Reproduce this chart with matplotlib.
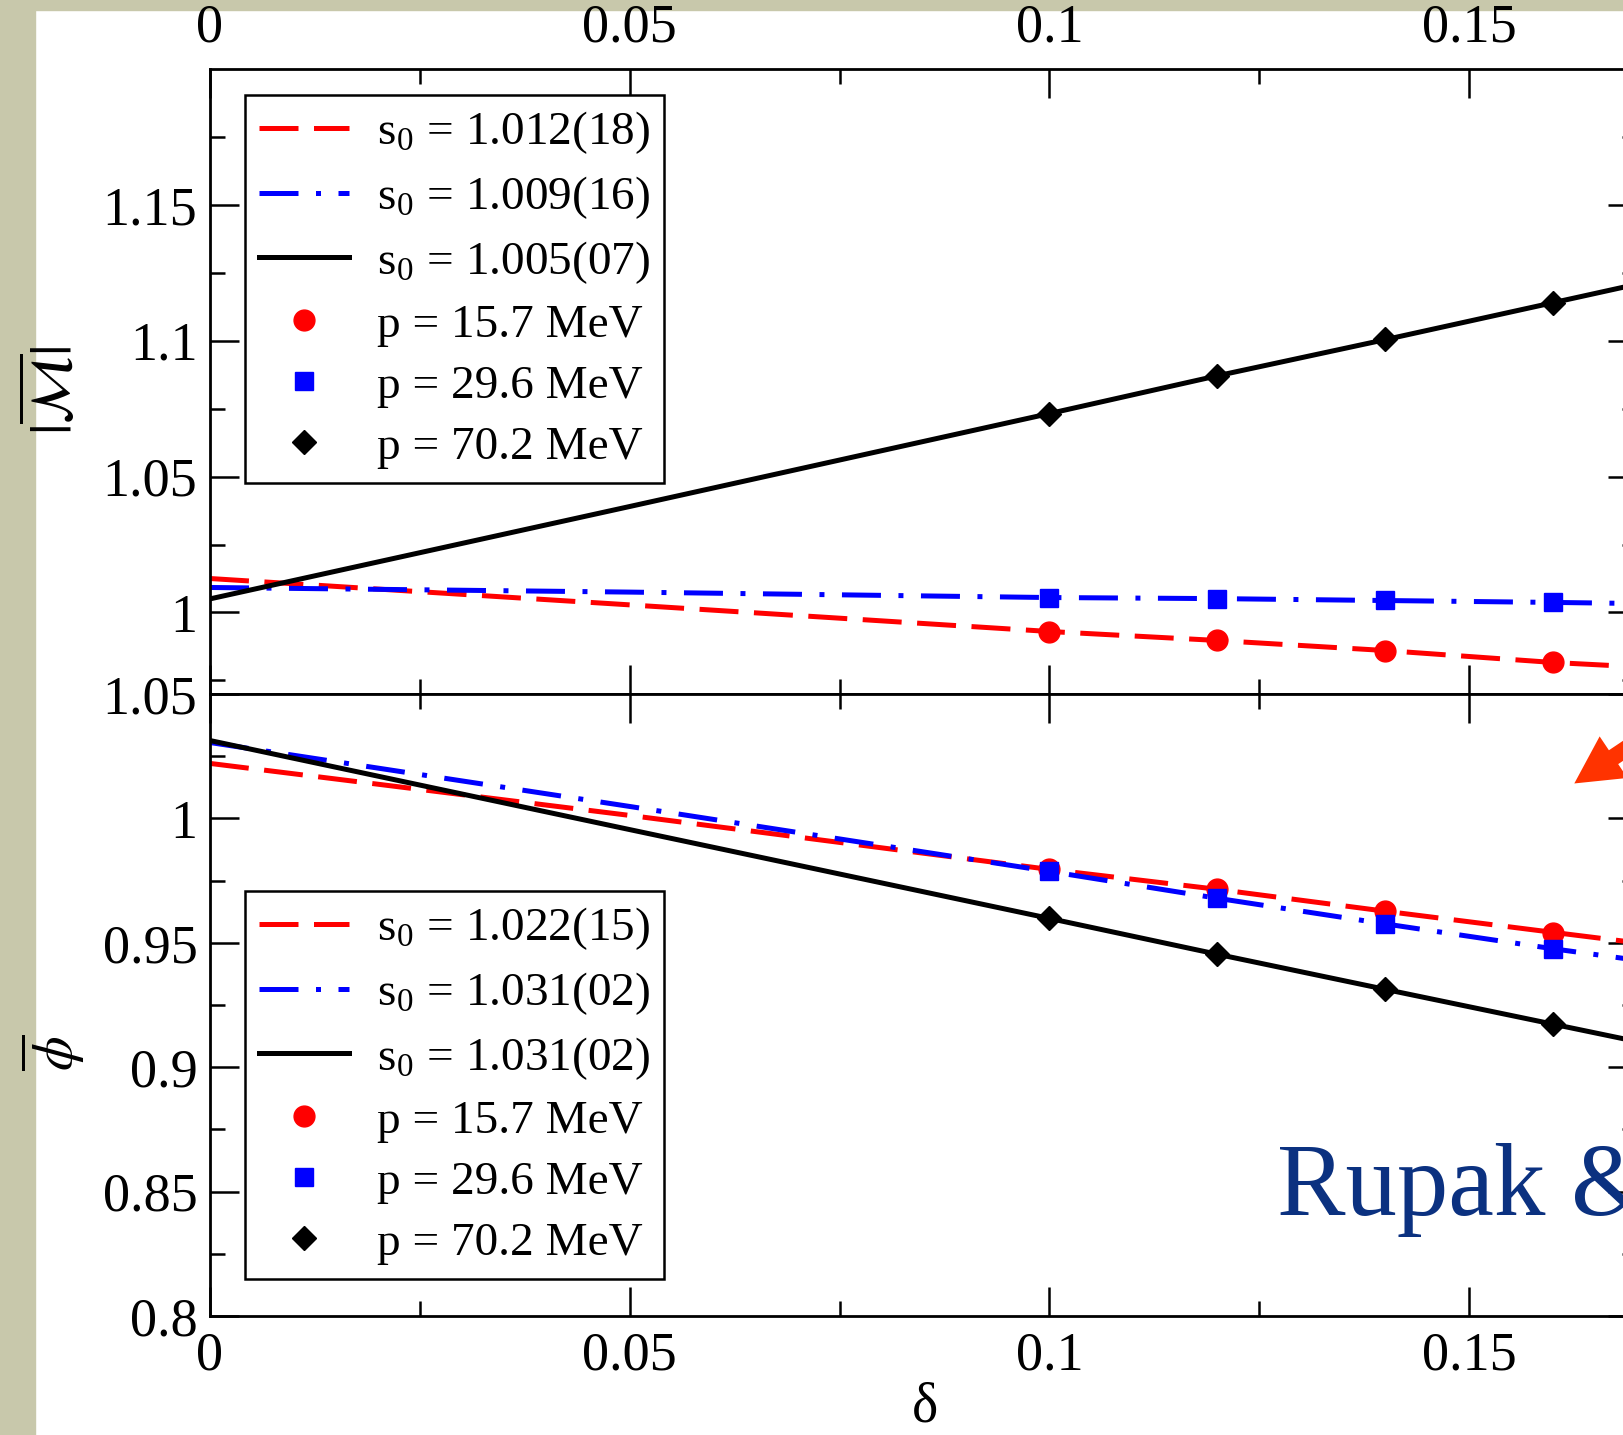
import matplotlib.pyplot as plt
from matplotlib.patches import Rectangle, FancyArrowPatch
from matplotlib.transforms import IdentityTransform
from matplotlib.ticker import FixedLocator, FormatStrFormatter

plt.rcParams['font.family'] = ['Liberation Serif', 'DejaVu Serif']
plt.rcParams['mathtext.fontset'] = 'stix'

# fitted curves, sampled along delta
delta_fit = [0.0, 0.05, 0.10, 0.12, 0.14, 0.16, 0.17]
M_fit_157 = [1.0125, 1.0028, 0.9930, 0.9897, 0.9860, 0.9816, 0.9800]
M_fit_296 = [1.0092, 1.0075, 1.0055, 1.0051, 1.0044, 1.0037, 1.0033]
M_fit_702 = [1.0050, 1.0390, 1.0732, 1.0871, 1.1004, 1.1140, 1.1208]
phi_fit_157 = [1.0221, 1.0012, 0.9795, 0.9715, 0.9627, 0.9542, 0.9500]
phi_fit_296 = [1.0305, 1.0048, 0.9787, 0.9679, 0.9576, 0.9476, 0.9430]
phi_fit_702 = [1.0313, 0.9955, 0.9598, 0.9454, 0.9313, 0.9173, 0.9103]

# lattice results
delta_pts = [0.10, 0.12, 0.14, 0.16]
M_157 = [0.9930, 0.9897, 0.9857, 0.9816]
M_296 = [1.0055, 1.0051, 1.0046, 1.0037]
M_702 = [1.0732, 1.0871, 1.1005, 1.1140]
phi_157 = [0.9795, 0.9715, 0.9627, 0.9540]
phi_296 = [0.9787, 0.9679, 0.9576, 0.9476]
phi_702 = [0.9598, 0.9454, 0.9313, 0.9173]

M_s0 = ['1.012(18)', '1.009(16)', '1.005(07)']
phi_s0 = ['1.022(15)', '1.031(02)', '1.031(02)']
momenta = ['15.7', '29.6', '70.2']

x_major = [0, 0.05, 0.1, 0.15]
x_minor = [0.025, 0.075, 0.125]
M_major = [1.0, 1.05, 1.1, 1.15]
M_minor = [0.975, 1.025, 1.075, 1.125, 1.175]
phi_major = [0.8, 0.85, 0.9, 0.95, 1.0, 1.05]
phi_minor = [0.825, 0.875, 0.925, 0.975, 1.025]

W, H = 1624, 1435
fig = plt.figure(figsize=(W / 100, H / 100), dpi=100)
fig.patch.set_facecolor('white')

# stone border of the slide
stone = '#c8c8ab'
fig.add_artist(Rectangle((0, 0), 35 / W, 1, transform=fig.transFigure,
                         color=stone, zorder=-5))
fig.add_artist(Rectangle((0, 1 - 10 / H), 1, 10 / H, transform=fig.transFigure,
                         color=stone, zorder=-5))

ax1 = fig.add_axes([210 / W, 1 - 694 / H, 1427 / W, 625 / H])
ax2 = fig.add_axes([210 / W, 1 - 1316 / H, 1427 / W, 622 / H])

styles = [
    dict(color='red', dashes=(7.8, 3.1)),
    dict(color='blue', dashes=(7.8, 3.5, 1.0, 3.5)),
    dict(color='black'),
]
markers = [
    dict(marker='o', color='red', markersize=15),
    dict(marker='s', color='blue', markersize=13),
    dict(marker='D', color='black', markersize=12),
]


def draw_panel(ax, fits, pts, s0_labels):
    lines = []
    for y, st, lab in zip(fits, styles, s0_labels):
        ln, = ax.plot(delta_fit, y, lw=3.6, label=r's$_\mathregular{0}$ = ' + lab, **st)
        lines.append(ln)
    dots = []
    for y, mk, p in zip(pts, markers, momenta):
        d, = ax.plot(delta_pts, y, ls='none', label='p = ' + p + ' MeV', zorder=4, **mk)
        dots.append(d)
    return lines + dots


h1 = draw_panel(ax1, [M_fit_157, M_fit_296, M_fit_702], [M_157, M_296, M_702], M_s0)
h2 = draw_panel(ax2, [phi_fit_157, phi_fit_296, phi_fit_702],
                [phi_157, phi_296, phi_702], phi_s0)

ax1.set_ylim(0.97, 1.2)
ax2.set_ylim(0.8, 1.05)
ax1.yaxis.set_major_locator(FixedLocator(M_major))
ax1.yaxis.set_minor_locator(FixedLocator(M_minor))
ax2.yaxis.set_major_locator(FixedLocator(phi_major))
ax2.yaxis.set_minor_locator(FixedLocator(phi_minor))

for ax in (ax1, ax2):
    ax.set_xlim(0, 0.17)
    ax.xaxis.set_major_locator(FixedLocator(x_major))
    ax.xaxis.set_minor_locator(FixedLocator(x_minor))
    ax.xaxis.set_major_formatter(FormatStrFormatter('%g'))
    ax.yaxis.set_major_formatter(FormatStrFormatter('%g'))
    ax.tick_params(which='both', direction='in', top=True, right=True, width=1.8)
    ax.tick_params(which='major', length=21, labelsize=39)
    ax.tick_params(which='minor', length=11)
    ax.tick_params(axis='x', pad=11)
    ax.tick_params(axis='y', pad=9)
    for sp in ax.spines.values():
        sp.set_linewidth(2.0)

ax1.tick_params(axis='x', labeltop=True, labelbottom=False)

for ax, handles, ytop in ((ax1, h1, 0.958), (ax2, h2, 0.683)):
    leg = ax.legend(handles=handles, loc='upper left', bbox_to_anchor=(0.0245, ytop),
                    borderaxespad=0, fancybox=False, edgecolor='black', framealpha=1,
                    fontsize=34, handlelength=1.9, handletextpad=0.6,
                    labelspacing=0.38, borderpad=0.3, numpoints=1)
    leg.get_frame().set_linewidth(1.8)

# axis titles
fig.text(53 / W, 1 - 390 / H, r'$|\overline{\mathcal{M}}|$', rotation=90,
         ha='center', va='center', fontsize=42)
fig.text(53 / W, 1 - 1053 / H, r'$\overline{\phi}$', rotation=90,
         ha='center', va='center', fontsize=40)
fig.text(925 / W, 1 - 1408 / H, 'δ', ha='center', va='center', fontsize=40)

fig.text(1277 / W, 1 - 1215 / H, 'Rupak &', ha='left', va='baseline',
         fontsize=74, color='#0b3180')

fig.add_artist(FancyArrowPatch((1690, H - 706), (1572, H - 785),
                               transform=IdentityTransform(),
                               arrowstyle='simple,head_length=3.4,head_width=3.6,tail_width=1.2',
                               mutation_scale=10, color='#ff3300', lw=0, zorder=6))

fig.savefig('out.png', dpi=100)
